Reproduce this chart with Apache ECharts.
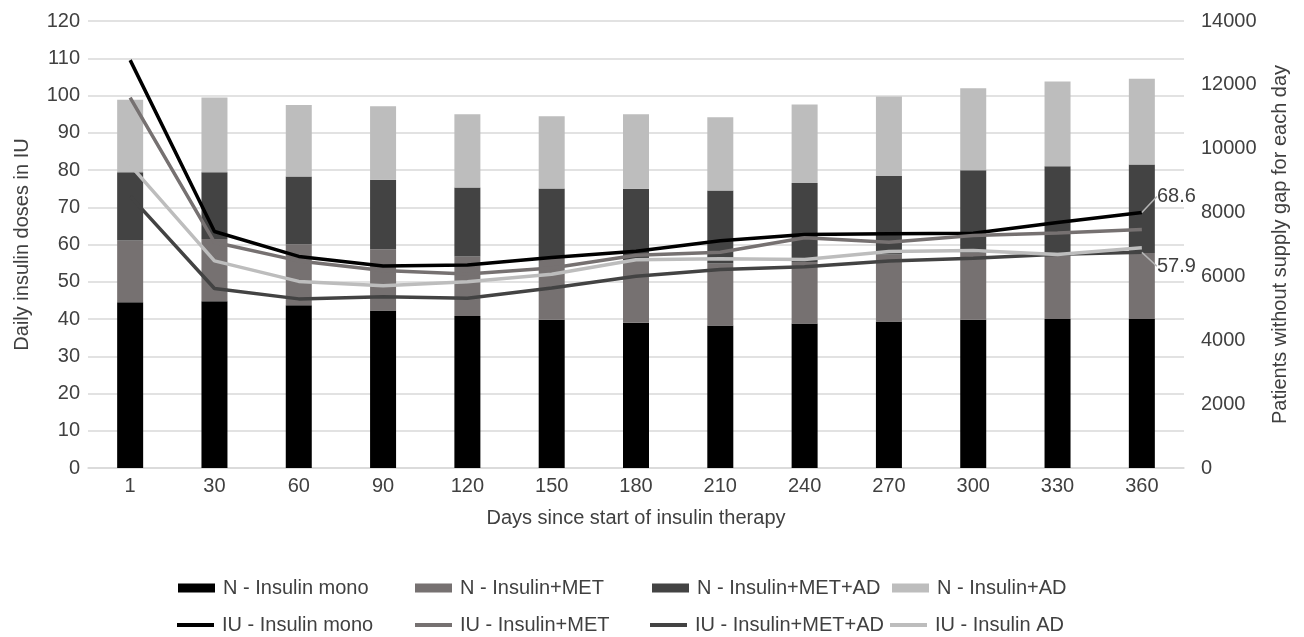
<!DOCTYPE html>
<html>
<head>
<meta charset="utf-8">
<script src="https://cdn.jsdelivr.net/npm/echarts@6/dist/echarts.min.js"></script>
<style>
html,body{margin:0;padding:0;background:#fff;}
#chart{width:1304px;height:637px;}
</style>
</head>
<body>
<div id="chart"></div>
<script>
const days = ['1','30','60','90','120','150','180','210','240','270','300','330','360'];
const leftTicks = [0,10,20,30,40,50,60,70,80,90,100,110,120];
const rightTicks = [0,2000,4000,6000,8000,10000,12000,14000];

// Patients without supply gap (stacked bars, right axis)
const nInsulinMono   = [5190,5220,5100,4935,4760,4645,4550,4460,4525,4585,4645,4665,4665];
const nInsulinMet    = [1937,1954,1908,1913,1867,1937,1960,1948,1925,2100,2088,2077,2065];
const nInsulinMetAd  = [2135,2088,2118,2182,2158,2170,2240,2287,2473,2462,2590,2707,2777];
const nInsulinAd     = [2275,2345,2240,2298,2298,2263,2333,2287,2462,2485,2567,2660,2683];

// Daily insulin doses (lines, left axis)
const iuInsulinMono  = [109.5,63.5,56.8,54.2,54.5,56.5,58.2,61.0,62.7,62.9,63.0,65.9,68.6];
const iuInsulinMet   = [99.4,60.6,55.6,53.0,52.1,53.7,57.1,57.9,61.8,60.6,62.4,63.1,64.0];
const iuInsulinMetAd = [73.0,48.2,45.4,46.0,45.6,48.3,51.5,53.3,54.0,55.6,56.3,57.4,57.9];
const iuInsulinAd    = [81.3,55.6,50.1,48.9,50.0,52.0,55.9,56.2,56.0,58.1,58.4,57.3,59.1];

const names = {
  nMono:'N - Insulin mono', nMet:'N - Insulin+MET', nMetAd:'N - Insulin+MET+AD', nAd:'N - Insulin+AD',
  iMono:'IU - Insulin mono', iMet:'IU - Insulin+MET', iMetAd:'IU - Insulin+MET+AD', iAd:'IU - Insulin AD'
};
const C = {black:'#000000', mid:'#767171', dark:'#434343', light:'#bdbdbd'};
const txt = '#404040';
const FONT = 'Liberation Sans, Arial, sans-serif';

function bar(name, data, color){
  return {name, type:'bar', stack:'n', yAxisIndex:1, data, barWidth:26,
    itemStyle:{color}, emphasis:{disabled:true}, z:2};
}
function lastLabel(data){
  return data.map((v,i)=> i===data.length-1 ? {value:v, label:{show:true}} : v);
}
function line(name, data, color, labelDy){
  const s = {name, type:'line', yAxisIndex:0, data, symbol:'circle', symbolSize:0.1, showSymbol:true,
    lineStyle:{color, width:3.5}, itemStyle:{color}, emphasis:{disabled:true}, z:5,
    label:{show:false}};
  if (labelDy !== undefined){
    s.data = lastLabel(data);
    s.label = {show:false, position:'right', formatter:'{c}', fontSize:20, color:txt, fontFamily:FONT, distance:0};
    s.labelLayout = {dx:15, dy:labelDy};
    s.labelLine = {show:true, lineStyle:{color:'#b5b5b5', width:1.5}};
  }
  return s;
}

function legendItem(name, left, top, isLine){
  return {data:[name], left, top, padding:0, itemWidth:37, itemHeight: isLine?4:9, icon:'rect',
    itemGap:0, textStyle:{fontSize:20, color:txt, fontFamily:FONT, padding:[0,0,0,3]}, selectedMode:false};
}

const chart = echarts.init(document.getElementById('chart'));
chart.setOption({
  animation:false,
  textStyle:{fontFamily:FONT},
  grid:{left:88, right:120, top:21, bottom:169},
  legend:[
    legendItem(names.nMono, 178, 578, false),
    legendItem(names.nMet, 415, 578, false),
    legendItem(names.nMetAd, 652, 578, false),
    legendItem(names.nAd, 892, 578, false),
    legendItem(names.iMono, 177, 615, true),
    legendItem(names.iMet, 415, 615, true),
    legendItem(names.iMetAd, 650, 615, true),
    legendItem(names.iAd, 890, 615, true)
  ],
  xAxis:{type:'category', data:days, boundaryGap:true,
    axisLine:{lineStyle:{color:'#d9d9d9', width:1.5}}, axisTick:{show:false},
    axisLabel:{fontSize:20, color:txt, margin:8},
    name:'Days since start of insulin therapy', nameLocation:'middle', nameGap:40,
    nameTextStyle:{fontSize:20, color:txt}},
  yAxis:[
    {type:'value', min:leftTicks[0], max:leftTicks[leftTicks.length-1], interval:10,
     axisLine:{show:false}, axisTick:{show:false},
     axisLabel:{fontSize:20, color:txt, margin:8},
     splitLine:{lineStyle:{color:'#d9d9d9', width:1.5}},
     name:'Daily insulin doses in IU', nameLocation:'middle', nameRotate:90, nameGap:56,
     nameTextStyle:{fontSize:20, color:txt}},
    {type:'value', min:rightTicks[0], max:rightTicks[rightTicks.length-1], interval:2000,
     position:'right', axisLine:{show:false}, axisTick:{show:false},
     axisLabel:{fontSize:20, color:txt, margin:17, formatter:(v)=>String(v)},
     splitLine:{show:false},
     name:'Patients without supply gap for each day', nameLocation:'middle', nameRotate:90, nameGap:86,
     nameTextStyle:{fontSize:20, color:txt}}
  ],
  series:[
    bar(names.nMono, nInsulinMono, C.black),
    bar(names.nMet, nInsulinMet, C.mid),
    bar(names.nMetAd, nInsulinMetAd, C.dark),
    bar(names.nAd, nInsulinAd, C.light),
    line(names.iMono, iuInsulinMono, C.black, -16),
    line(names.iMet, iuInsulinMet, C.mid),
    line(names.iMetAd, iuInsulinMetAd, C.dark, 14),
    line(names.iAd, iuInsulinAd, C.light)
  ]
});
</script>
</body>
</html>
